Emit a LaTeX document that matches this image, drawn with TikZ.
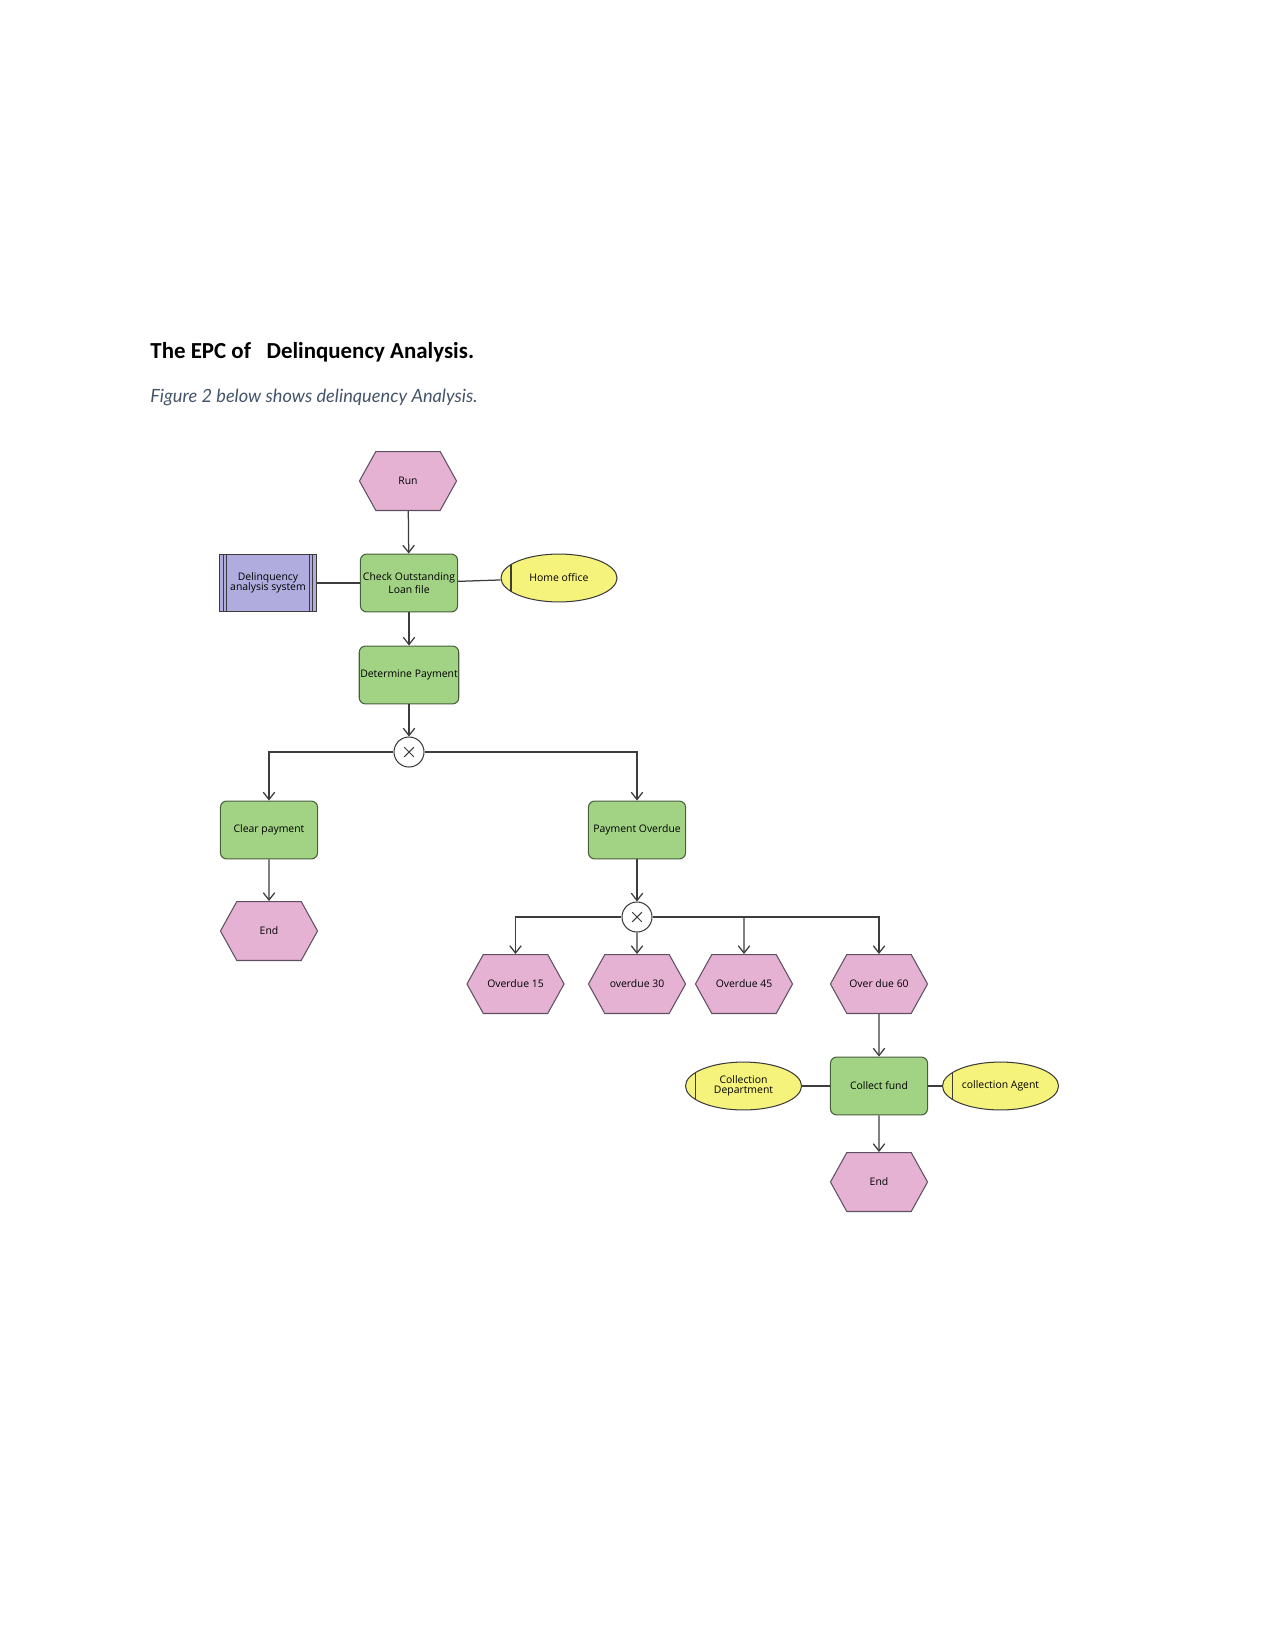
\documentclass[tikz,border=0pt]{standalone}
\usepackage{fontspec}
\setmainfont{Open Sans}
\newfontfamily\titlefont{Carlito}
\newfontfamily\capfont{Lato}
\usetikzlibrary{shapes.geometric, shapes.symbols, arrows.meta, positioning, calc}
\definecolor{evpink}{RGB}{229,178,211}
\definecolor{evline}{RGB}{95,80,95}
\definecolor{fngreen}{RGB}{162,210,132}
\definecolor{fnline}{RGB}{70,95,60}
\definecolor{syspurple}{RGB}{176,172,222}
\definecolor{orgyellow}{RGB}{246,243,125}
\definecolor{lncol}{RGB}{60,60,60}
\definecolor{capgray}{RGB}{68,84,106}

\begin{document}
\begin{tikzpicture}[x=0.48pt, y=-0.48pt,
  event/.style={signal, signal to=west and east, signal pointer angle=122, draw=evline, fill=evpink, minimum width=46.6pt, minimum height=28.3pt, inner sep=1pt, align=center, font=\fontsize{5}{5}\selectfont, line width=0.5pt},
  func/.style={rectangle, rounded corners=3pt, draw=fnline, fill=fngreen, minimum width=46.6pt, minimum height=27.8pt, inner sep=0.5pt, align=center, font=\fontsize{5}{5}\selectfont, line width=0.5pt},
  sysbox/.style={rectangle, draw=lncol, fill=syspurple, minimum width=46.6pt, minimum height=27.8pt, inner sep=1pt, align=center, font=\fontsize{5}{5}\selectfont, line width=0.5pt,
    path picture={
      \draw[lncol, line width=0.5pt] ([xshift=1.9pt]path picture bounding box.north west) -- ([xshift=1.9pt]path picture bounding box.south west);
      \draw[lncol, line width=0.5pt] ([xshift=3.5pt]path picture bounding box.north west) -- ([xshift=3.5pt]path picture bounding box.south west);
      \draw[lncol, line width=0.5pt] ([xshift=-1.9pt]path picture bounding box.north east) -- ([xshift=-1.9pt]path picture bounding box.south east);
      \draw[lncol, line width=0.5pt] ([xshift=-3.5pt]path picture bounding box.north east) -- ([xshift=-3.5pt]path picture bounding box.south east);}},
  orgunit/.style={ellipse, draw=lncol, fill=orgyellow, minimum width=55.7pt, minimum height=23pt, inner sep=0pt, align=center, font=\fontsize{5}{5}\selectfont, line width=0.5pt,
    path picture={
      \draw[lncol, line width=0.5pt] ([xshift=4.8pt]path picture bounding box.north west) -- ([xshift=4.8pt]path picture bounding box.south west);}},
  xor/.style={circle, draw=lncol, fill=white, minimum size=14.4pt, inner sep=0pt, line width=0.5pt,
    path picture={
      \draw[lncol, line width=0.5pt] ($(path picture bounding box.center)+(-2.3pt,-2.3pt)$) -- ($(path picture bounding box.center)+(2.3pt,2.3pt)$);
      \draw[lncol, line width=0.5pt] ($(path picture bounding box.center)+(-2.3pt,2.3pt)$) -- ($(path picture bounding box.center)+(2.3pt,-2.3pt)$);}},
  arr/.style={-{Straight Barb[length=3.5pt, width=5.5pt]}, line width=0.6pt, draw=lncol},
  lnk/.style={line width=0.6pt, draw=lncol}
]
\useasboundingbox (0,0) rectangle (1275,1651);

% heading
\node[anchor=base west, inner sep=0pt, font=\titlefont\bfseries\fontsize{11}{13}\selectfont] (title) at (150,358) {The EPC of\ \ \ Delinquency Analysis.};
\node[anchor=base west, inner sep=0pt, text=capgray, font=\capfont\itshape\fontsize{8.75}{11}\selectfont] (caption) at (150,402) {Figure 2 below shows delinquency Analysis.};

% main column
\node[event] (run) at (408,481) {Run};
\node[func] (check) at (409,583) {Check Outstanding\\Loan file};
\node[sysbox] (sys) at (268,583) {Delinquency\\analysis system};
\node[orgunit] (home) at (559,578) {Home office};
\node[func] (determine) at (409,675) {Determine Payment};
\node[xor] (xa) at (409,752) {};

% first split
\node[func] (clear) at (269,830) {Clear payment};
\node[event] (endA) at (269,931) {End};
\node[func] (overdue) at (637,830) {Payment Overdue};
\node[xor] (xb) at (637,917) {};

% second split
\node[event] (od15) at (515.5,984) {Overdue 15};
\node[event] (od30) at (637,984) {overdue 30};
\node[event] (od45) at (744,984) {Overdue 45};
\node[event] (od60) at (879,984) {Over due 60};

% collection
\node[func] (collect) at (879,1086) {Collect fund};
\node[orgunit] (dept) at (743.5,1086) {Collection\\Department};
\node[orgunit] (agent) at (1000.5,1086) {collection Agent};
\node[event] (endB) at (879,1182) {End};

\draw[arr] (run) -- (check);
\draw[arr] (check) -- (determine);
\draw[arr] (determine) -- (xa);
\draw[lnk] (sys) -- (check);
\draw[lnk] (check) -- (home);
\draw[arr] (xa) -| (clear);
\draw[arr] (xa) -| (overdue);
\draw[arr] (clear) -- (endA);
\draw[arr] (overdue) -- (xb);
\draw[arr] (xb) -| (od15);
\draw[arr] (xb) -- (od30);
\draw[arr] (xb) -| (od60);
\draw[arr] (xb -| od45) -- (od45);
\draw[arr] (od60) -- (collect);
\draw[lnk] (dept) -- (collect);
\draw[lnk] (collect) -- (agent);
\draw[arr] (collect) -- (endB);
\end{tikzpicture}
\end{document}
